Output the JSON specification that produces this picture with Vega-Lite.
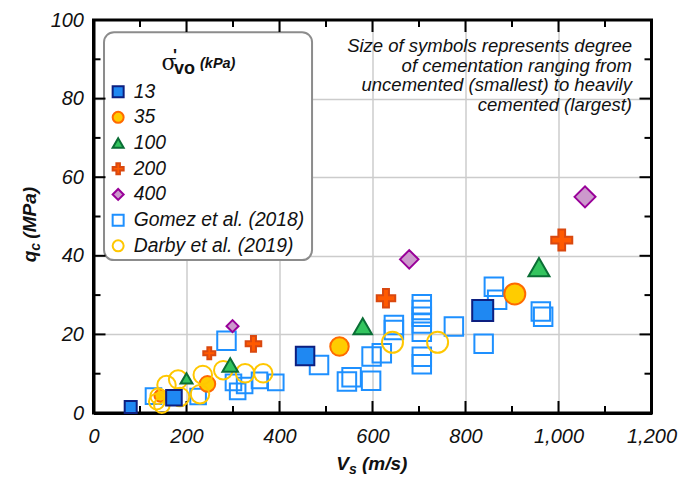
{
  "$schema": "https://vega.github.io/schema/vega-lite/v6.json",
  "width": 558,
  "height": 393,
  "autosize": "none",
  "padding": {"left": 93.5, "top": 20, "right": 42.5, "bottom": 64},
  "background": "white",
  "config": {"view": {"stroke": null}, "font": "Liberation Sans"},
  "datasets": {
    "xmaj": [{"v": 200}, {"v": 400}, {"v": 600}, {"v": 800}, {"v": 1000}],
    "xmin": [{"v": 100}, {"v": 300}, {"v": 500}, {"v": 700}, {"v": 900}, {"v": 1100}],
    "ymaj": [{"v": 20}, {"v": 40}, {"v": 60}, {"v": 80}],
    "ymin": [{"v": 10}, {"v": 30}, {"v": 50}, {"v": 70}, {"v": 90}],
    "pts": [
      {"Vs": 129, "qc": 4.3, "series": "Gomez et al. (2018)", "cem": 2},
      {"Vs": 225, "qc": 4.2, "series": "Gomez et al. (2018)", "cem": 2},
      {"Vs": 286, "qc": 18.4, "series": "Gomez et al. (2018)", "cem": 3},
      {"Vs": 301, "qc": 7.8, "series": "Gomez et al. (2018)", "cem": 2},
      {"Vs": 310, "qc": 5.5, "series": "Gomez et al. (2018)", "cem": 2},
      {"Vs": 325, "qc": 7.0, "series": "Gomez et al. (2018)", "cem": 2},
      {"Vs": 357, "qc": 8.3, "series": "Gomez et al. (2018)", "cem": 2},
      {"Vs": 392, "qc": 7.8, "series": "Gomez et al. (2018)", "cem": 2},
      {"Vs": 485, "qc": 12.2, "series": "Gomez et al. (2018)", "cem": 3},
      {"Vs": 545, "qc": 8.0, "series": "Gomez et al. (2018)", "cem": 3},
      {"Vs": 555, "qc": 9.1, "series": "Gomez et al. (2018)", "cem": 3},
      {"Vs": 597, "qc": 8.2, "series": "Gomez et al. (2018)", "cem": 3},
      {"Vs": 598, "qc": 14.4, "series": "Gomez et al. (2018)", "cem": 3},
      {"Vs": 620, "qc": 15.2, "series": "Gomez et al. (2018)", "cem": 3},
      {"Vs": 646, "qc": 22.4, "series": "Gomez et al. (2018)", "cem": 3},
      {"Vs": 646, "qc": 21.1, "series": "Gomez et al. (2018)", "cem": 3},
      {"Vs": 706, "qc": 27.7, "series": "Gomez et al. (2018)", "cem": 3},
      {"Vs": 706, "qc": 26.2, "series": "Gomez et al. (2018)", "cem": 3},
      {"Vs": 706, "qc": 24.5, "series": "Gomez et al. (2018)", "cem": 3},
      {"Vs": 706, "qc": 22.8, "series": "Gomez et al. (2018)", "cem": 3},
      {"Vs": 706, "qc": 20.7, "series": "Gomez et al. (2018)", "cem": 3},
      {"Vs": 706, "qc": 14.3, "series": "Gomez et al. (2018)", "cem": 3},
      {"Vs": 706, "qc": 12.4, "series": "Gomez et al. (2018)", "cem": 3},
      {"Vs": 775, "qc": 22.0, "series": "Gomez et al. (2018)", "cem": 3},
      {"Vs": 839, "qc": 17.6, "series": "Gomez et al. (2018)", "cem": 3},
      {"Vs": 861, "qc": 32.1, "series": "Gomez et al. (2018)", "cem": 3},
      {"Vs": 868, "qc": 28.8, "series": "Gomez et al. (2018)", "cem": 3},
      {"Vs": 962, "qc": 25.8, "series": "Gomez et al. (2018)", "cem": 3},
      {"Vs": 967, "qc": 24.5, "series": "Gomez et al. (2018)", "cem": 3},
      {"Vs": 144, "qc": 4.4, "series": "35", "cem": 1},
      {"Vs": 245, "qc": 7.4, "series": "35", "cem": 2},
      {"Vs": 529, "qc": 16.9, "series": "35", "cem": 3},
      {"Vs": 906, "qc": 30.3, "series": "35", "cem": 4},
      {"Vs": 136, "qc": 2.9, "series": "Darby et al. (2019)", "cem": 2},
      {"Vs": 147, "qc": 2.0, "series": "Darby et al. (2019)", "cem": 2},
      {"Vs": 139, "qc": 4.3, "series": "Darby et al. (2019)", "cem": 2},
      {"Vs": 157, "qc": 7.1, "series": "Darby et al. (2019)", "cem": 3},
      {"Vs": 182, "qc": 8.5, "series": "Darby et al. (2019)", "cem": 3},
      {"Vs": 186, "qc": 4.1, "series": "Darby et al. (2019)", "cem": 3},
      {"Vs": 229, "qc": 4.8, "series": "Darby et al. (2019)", "cem": 3},
      {"Vs": 235, "qc": 9.7, "series": "Darby et al. (2019)", "cem": 3},
      {"Vs": 279, "qc": 10.9, "series": "Darby et al. (2019)", "cem": 3},
      {"Vs": 326, "qc": 10.1, "series": "Darby et al. (2019)", "cem": 3},
      {"Vs": 365, "qc": 10.1, "series": "Darby et al. (2019)", "cem": 3},
      {"Vs": 643, "qc": 18.0, "series": "Darby et al. (2019)", "cem": 4},
      {"Vs": 740, "qc": 18.0, "series": "Darby et al. (2019)", "cem": 4},
      {"Vs": 80, "qc": 1.5, "series": "13", "cem": 1},
      {"Vs": 173, "qc": 3.9, "series": "13", "cem": 2},
      {"Vs": 455, "qc": 14.5, "series": "13", "cem": 3},
      {"Vs": 837, "qc": 26.1, "series": "13", "cem": 4},
      {"Vs": 200, "qc": 8.8, "series": "100", "cem": 1},
      {"Vs": 294, "qc": 12.2, "series": "100", "cem": 2},
      {"Vs": 579, "qc": 22.1, "series": "100", "cem": 3},
      {"Vs": 958, "qc": 37.1, "series": "100", "cem": 4},
      {"Vs": 249, "qc": 15.2, "series": "200", "cem": 1},
      {"Vs": 344, "qc": 17.6, "series": "200", "cem": 2},
      {"Vs": 629, "qc": 29.2, "series": "200", "cem": 3},
      {"Vs": 1007, "qc": 44.0, "series": "200", "cem": 4},
      {"Vs": 299, "qc": 22.1, "series": "400", "cem": 1},
      {"Vs": 679, "qc": 39.1, "series": "400", "cem": 3},
      {"Vs": 1057, "qc": 55.0, "series": "400", "cem": 4}
    ]
  },
  "layer": [
    {
      "data": {"values": [{}]},
      "mark": {"type": "rect", "fillOpacity": 0, "stroke": "black", "strokeWidth": 3},
      "encoding": {
        "x": {"datum": 0, "type": "quantitative", "scale": {"domain": [0, 1200], "nice": false}, "axis": null},
        "x2": {"datum": 1200},
        "y": {"datum": 0, "type": "quantitative", "scale": {"domain": [0, 100], "nice": false}, "axis": null},
        "y2": {"datum": 100}
      }
    },
    {
      "data": {"values": [{}]},
      "mark": {"type": "rect", "fill": "white", "stroke": "#8c8c8c", "strokeWidth": 2, "cornerRadius": 10},
      "encoding": {
        "x": {"datum": 22.6, "type": "quantitative", "scale": {"domain": [0, 1200], "nice": false}, "axis": null},
        "x2": {"datum": 470},
        "y": {"datum": 96.9, "type": "quantitative", "scale": {"domain": [0, 100], "nice": false}, "axis": null},
        "y2": {"datum": 38.9}
      }
    },
    {
      "data": {"name": "xmaj"},
      "mark": {"type": "point", "shape": "M0,-1L0,1", "filled": false, "stroke": "black", "strokeWidth": 2, "size": 144, "opacity": 1},
      "encoding": {
        "x": {"field": "v", "type": "quantitative", "scale": {"domain": [0, 1200], "nice": false}, "axis": null},
        "y": {"datum": 1.527, "type": "quantitative", "scale": {"domain": [0, 100], "nice": false}, "axis": null}
      }
    },
    {
      "data": {"name": "xmaj"},
      "mark": {"type": "point", "shape": "M0,-1L0,1", "filled": false, "stroke": "black", "strokeWidth": 2, "size": 144, "opacity": 1},
      "encoding": {
        "x": {"field": "v", "type": "quantitative", "scale": {"domain": [0, 1200], "nice": false}, "axis": null},
        "y": {"datum": 98.473, "type": "quantitative", "scale": {"domain": [0, 100], "nice": false}, "axis": null}
      }
    },
    {
      "data": {"name": "xmin"},
      "mark": {"type": "point", "shape": "M0,-1L0,1", "filled": false, "stroke": "black", "strokeWidth": 2, "size": 49, "opacity": 1},
      "encoding": {
        "x": {"field": "v", "type": "quantitative", "scale": {"domain": [0, 1200], "nice": false}, "axis": null},
        "y": {"datum": 0.89, "type": "quantitative", "scale": {"domain": [0, 100], "nice": false}, "axis": null}
      }
    },
    {
      "data": {"name": "xmin"},
      "mark": {"type": "point", "shape": "M0,-1L0,1", "filled": false, "stroke": "black", "strokeWidth": 2, "size": 49, "opacity": 1},
      "encoding": {
        "x": {"field": "v", "type": "quantitative", "scale": {"domain": [0, 1200], "nice": false}, "axis": null},
        "y": {"datum": 99.11, "type": "quantitative", "scale": {"domain": [0, 100], "nice": false}, "axis": null}
      }
    },
    {
      "data": {"name": "ymaj"},
      "mark": {"type": "point", "shape": "M-1,0L1,0", "filled": false, "stroke": "black", "strokeWidth": 2, "size": 144, "opacity": 1},
      "encoding": {
        "y": {"field": "v", "type": "quantitative", "scale": {"domain": [0, 100], "nice": false}, "axis": null},
        "x": {"datum": 12.9, "type": "quantitative", "scale": {"domain": [0, 1200], "nice": false}, "axis": null}
      }
    },
    {
      "data": {"name": "ymaj"},
      "mark": {"type": "point", "shape": "M-1,0L1,0", "filled": false, "stroke": "black", "strokeWidth": 2, "size": 144, "opacity": 1},
      "encoding": {
        "y": {"field": "v", "type": "quantitative", "scale": {"domain": [0, 100], "nice": false}, "axis": null},
        "x": {"datum": 1187.1, "type": "quantitative", "scale": {"domain": [0, 1200], "nice": false}, "axis": null}
      }
    },
    {
      "data": {"name": "ymin"},
      "mark": {"type": "point", "shape": "M-1,0L1,0", "filled": false, "stroke": "black", "strokeWidth": 2, "size": 49, "opacity": 1},
      "encoding": {
        "y": {"field": "v", "type": "quantitative", "scale": {"domain": [0, 100], "nice": false}, "axis": null},
        "x": {"datum": 7.53, "type": "quantitative", "scale": {"domain": [0, 1200], "nice": false}, "axis": null}
      }
    },
    {
      "data": {"name": "ymin"},
      "mark": {"type": "point", "shape": "M-1,0L1,0", "filled": false, "stroke": "black", "strokeWidth": 2, "size": 49, "opacity": 1},
      "encoding": {
        "y": {"field": "v", "type": "quantitative", "scale": {"domain": [0, 100], "nice": false}, "axis": null},
        "x": {"datum": 1192.47, "type": "quantitative", "scale": {"domain": [0, 1200], "nice": false}, "axis": null}
      }
    },
    {
      "data": {"name": "pts"},
      "mark": {"type": "point", "filled": true, "opacity": 1, "strokeWidth": 2},
      "encoding": {
        "x": {
          "field": "Vs", "type": "quantitative",
          "scale": {"domain": [0, 1200], "nice": false},
          "axis": {
            "orient": "bottom", "title": null,
            "values": [0, 200, 400, 600, 800, 1000, 1200],
            "format": ",.0f",
            "labelFont": "Liberation Sans", "labelFontStyle": "italic", "labelFontSize": 20, "labelColor": "#111111",
            "labelPadding": 13, "labelFlush": false, "labelOverlap": false,
            "domainColor": "black", "domainWidth": 3,
            "ticks": true, "tickColor": "black", "tickWidth": 0, "tickSize": 0,
            "grid": true, "gridColor": "#cccccc", "gridWidth": 1.5,
            "gridOpacity": {"condition": {"test": "datum.value > 0 && datum.value < 1200", "value": 1}, "value": 0}
          }
        },
        "y": {
          "field": "qc", "type": "quantitative",
          "scale": {"domain": [0, 100], "nice": false},
          "axis": {
            "orient": "left", "title": null,
            "values": [0, 20, 40, 60, 80, 100],
            "format": "d",
            "labelFont": "Liberation Sans", "labelFontStyle": "italic", "labelFontSize": 20, "labelColor": "#111111",
            "labelPadding": 10, "labelFlush": false, "labelOverlap": false,
            "domainColor": "black", "domainWidth": 3,
            "ticks": true, "tickColor": "black", "tickWidth": 0, "tickSize": 0,
            "grid": true, "gridColor": "#cccccc", "gridWidth": 1.5,
            "gridOpacity": {"condition": {"test": "datum.value > 0 && datum.value < 100", "value": 1}, "value": 0}
          }
        },
        "shape": {
          "field": "series", "type": "nominal",
          "scale": {"domain": ["13", "35", "100", "200", "400", "Gomez et al. (2018)", "Darby et al. (2019)"],
                    "range": ["square", "circle", "triangle-up", "M-1,-0.32H-0.32V-1H0.32V-0.32H1V0.32H0.32V1H-0.32V0.32H-1Z", "diamond", "square", "circle"]},
          "legend": {"title": null, "orient": "none", "legendX": 15, "legendY": 62, "labelFont": "Liberation Sans", "labelFontStyle": "italic", "labelFontSize": 19.3, "labelColor": "#111111", "labelLimit": 400, "symbolSize": 121, "symbolStrokeWidth": 2, "rowPadding": 5.7, "labelOffset": 6, "padding": 0, "symbolOpacity": 1}
        },
        "fill": {
          "field": "series", "type": "nominal",
          "scale": {"domain": ["13", "35", "100", "200", "400", "Gomez et al. (2018)", "Darby et al. (2019)"],
                    "range": ["#1f88f2", "#ffcc00", "#33c45e", "#ff5a00", "#cc99cc", "transparent", "transparent"]},
          "legend": {"title": null, "orient": "none", "legendX": 15, "legendY": 62, "labelFont": "Liberation Sans", "labelFontStyle": "italic", "labelFontSize": 19.3, "labelColor": "#111111", "labelLimit": 400, "symbolSize": 121, "symbolStrokeWidth": 2, "rowPadding": 5.7, "labelOffset": 6, "padding": 0, "symbolOpacity": 1}
        },
        "stroke": {
          "field": "series", "type": "nominal",
          "scale": {"domain": ["13", "35", "100", "200", "400", "Gomez et al. (2018)", "Darby et al. (2019)"],
                    "range": ["#0d1f80", "#ff6a00", "#0a6e35", "#d9480f", "#990099", "#1e90ff", "#ffc700"]},
          "legend": {"title": null, "orient": "none", "legendX": 15, "legendY": 62, "labelFont": "Liberation Sans", "labelFontStyle": "italic", "labelFontSize": 19.3, "labelColor": "#111111", "labelLimit": 400, "symbolSize": 121, "symbolStrokeWidth": 2, "rowPadding": 5.7, "labelOffset": 6, "padding": 0, "symbolOpacity": 1}
        },
        "size": {"field": "cem", "type": "quantitative", "scale": {"domain": [1, 4], "range": [144, 441]}, "legend": null}
      }
    },
    {
      "data": {"values": [{}]},
      "mark": {"type": "text", "font": "Liberation Sans", "fontSize": 18.5, "fontStyle": "italic", "align": "right", "baseline": "alphabetic", "lineHeight": 19.7, "color": "#111111",
               "text": ["Size of symbols represents degree", "of cementation ranging from", "uncemented (smallest) to heavily", "cemented (largest)"]},
      "encoding": {
        "x": {"datum": 1158, "type": "quantitative", "scale": {"domain": [0, 1200], "nice": false}, "axis": null},
        "y": {"datum": 91.9, "type": "quantitative", "scale": {"domain": [0, 100], "nice": false}, "axis": null}
      }
    },
    {
      "data": {"values": [{}]},
      "mark": {"type": "text", "text": "V", "font": "Liberation Sans", "fontSize": 19, "fontWeight": "bold", "fontStyle": "italic", "align": "right", "baseline": "alphabetic", "color": "#111111"},
      "encoding": {
        "x": {"datum": 549.5, "type": "quantitative", "scale": {"domain": [0, 1200], "nice": false}, "axis": null},
        "y": {"datum": -14.5, "type": "quantitative", "scale": {"domain": [0, 100], "nice": false}, "axis": null}
      }
    },
    {
      "data": {"values": [{}]},
      "mark": {"type": "text", "text": "s", "font": "Liberation Sans", "fontSize": 14, "fontWeight": "bold", "fontStyle": "italic", "align": "left", "baseline": "alphabetic", "dy": 4, "color": "#111111"},
      "encoding": {
        "x": {"datum": 549.5, "type": "quantitative", "scale": {"domain": [0, 1200], "nice": false}, "axis": null},
        "y": {"datum": -14.5, "type": "quantitative", "scale": {"domain": [0, 100], "nice": false}, "axis": null}
      }
    },
    {
      "data": {"values": [{}]},
      "mark": {"type": "text", "text": "(m/s)", "font": "Liberation Sans", "fontSize": 19, "fontWeight": "bold", "fontStyle": "italic", "align": "left", "baseline": "alphabetic", "dx": 13, "color": "#111111"},
      "encoding": {
        "x": {"datum": 549.5, "type": "quantitative", "scale": {"domain": [0, 1200], "nice": false}, "axis": null},
        "y": {"datum": -14.5, "type": "quantitative", "scale": {"domain": [0, 100], "nice": false}, "axis": null}
      }
    },
    {
      "data": {"values": [{}]},
      "mark": {"type": "text", "text": "q", "angle": 270, "font": "Liberation Sans", "fontSize": 19, "fontWeight": "bold", "fontStyle": "italic", "align": "right", "baseline": "alphabetic", "color": "#111111"},
      "encoding": {
        "x": {"datum": -123.7, "type": "quantitative", "scale": {"domain": [0, 1200], "nice": false}, "axis": null},
        "y": {"datum": 41.3, "type": "quantitative", "scale": {"domain": [0, 100], "nice": false}, "axis": null}
      }
    },
    {
      "data": {"values": [{}]},
      "mark": {"type": "text", "text": "c", "angle": 270, "font": "Liberation Sans", "fontSize": 14, "fontWeight": "bold", "fontStyle": "italic", "align": "left", "baseline": "alphabetic", "dy": 4, "color": "#111111"},
      "encoding": {
        "x": {"datum": -123.7, "type": "quantitative", "scale": {"domain": [0, 1200], "nice": false}, "axis": null},
        "y": {"datum": 41.3, "type": "quantitative", "scale": {"domain": [0, 100], "nice": false}, "axis": null}
      }
    },
    {
      "data": {"values": [{}]},
      "mark": {"type": "text", "text": "(MPa)", "angle": 270, "font": "Liberation Sans", "fontSize": 19, "fontWeight": "bold", "fontStyle": "italic", "align": "left", "baseline": "alphabetic", "dx": 12, "color": "#111111"},
      "encoding": {
        "x": {"datum": -123.7, "type": "quantitative", "scale": {"domain": [0, 1200], "nice": false}, "axis": null},
        "y": {"datum": 41.3, "type": "quantitative", "scale": {"domain": [0, 100], "nice": false}, "axis": null}
      }
    },
    {
      "data": {"values": [{}]},
      "mark": {"type": "text", "text": "σ", "font": "DejaVu Serif", "fontSize": 22, "align": "left", "baseline": "alphabetic", "color": "#111111"},
      "encoding": {
        "x": {"datum": 146.2, "type": "quantitative", "scale": {"domain": [0, 1200], "nice": false}, "axis": null},
        "y": {"datum": 87.3, "type": "quantitative", "scale": {"domain": [0, 100], "nice": false}, "axis": null}
      }
    },
    {
      "data": {"values": [{}]},
      "mark": {"type": "text", "text": "'", "font": "Liberation Sans", "fontSize": 17, "fontWeight": "bold", "align": "left", "baseline": "alphabetic", "color": "#111111"},
      "encoding": {
        "x": {"datum": 171, "type": "quantitative", "scale": {"domain": [0, 1200], "nice": false}, "axis": null},
        "y": {"datum": 89.6, "type": "quantitative", "scale": {"domain": [0, 100], "nice": false}, "axis": null}
      }
    },
    {
      "data": {"values": [{}]},
      "mark": {"type": "text", "text": "vo", "font": "Liberation Sans", "fontSize": 18, "fontWeight": "bold", "align": "left", "baseline": "alphabetic", "color": "#111111"},
      "encoding": {
        "x": {"datum": 173, "type": "quantitative", "scale": {"domain": [0, 1200], "nice": false}, "axis": null},
        "y": {"datum": 86.3, "type": "quantitative", "scale": {"domain": [0, 100], "nice": false}, "axis": null}
      }
    },
    {
      "data": {"values": [{}]},
      "mark": {"type": "text", "text": "(kPa)", "font": "Liberation Sans", "fontSize": 14.5, "fontWeight": "bold", "fontStyle": "italic", "align": "left", "baseline": "alphabetic", "color": "#111111"},
      "encoding": {
        "x": {"datum": 229, "type": "quantitative", "scale": {"domain": [0, 1200], "nice": false}, "axis": null},
        "y": {"datum": 87.7, "type": "quantitative", "scale": {"domain": [0, 100], "nice": false}, "axis": null}
      }
    }
  ],
  "resolve": {"axis": {"x": "independent", "y": "independent"}}
}
